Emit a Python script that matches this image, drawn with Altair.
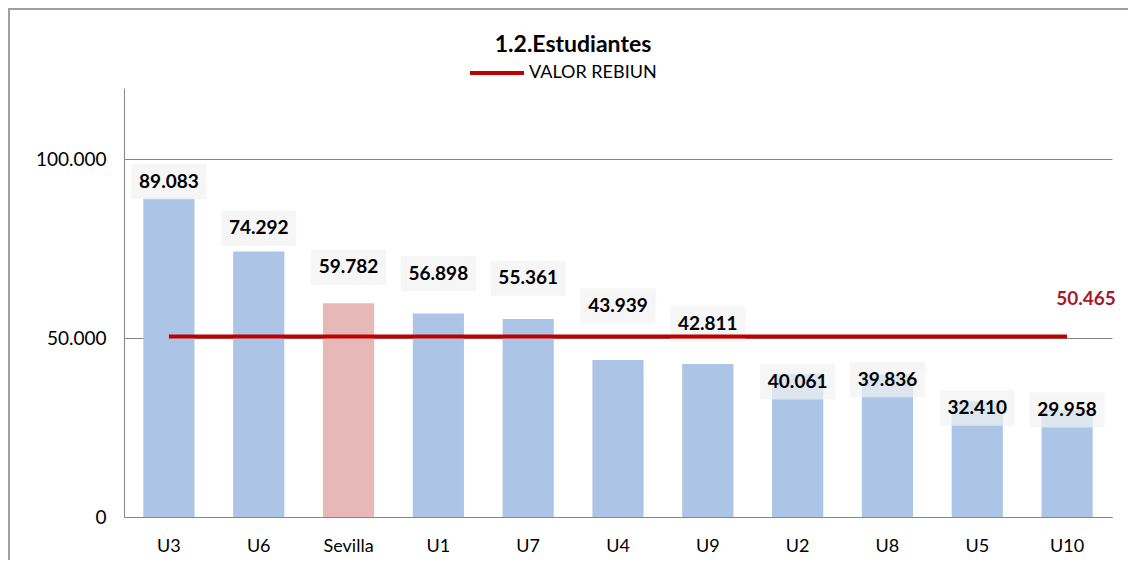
import altair as alt
import pandas as pd

# ---- data ----
categories = ["U3", "U6", "Sevilla", "U1", "U7", "U4", "U9", "U2", "U8", "U5", "U10"]
values = [89083, 74292, 59782, 56898, 55361, 43939, 42811, 40061, 39836, 32410, 29958]
highlight = "Sevilla"
rebiun_value = 50465
rebiun_label = "VALOR REBIUN"
chart_title = "1.2.Estudiantes"
y_ticks = [0, 50000, 100000]
# label lift above bar top (px), as placed in the reference
label_lift = [17, 23, 36, 40, 41, 54, 40, -8, -5, -7, 0]

Y_MAX = 120000
PLOT_W, PLOT_H = 988, 429


def fmt(v):
    return f"{v:,}".replace(",", ".")


df = pd.DataFrame({
    "cat": categories,
    "value": values,
    "label": [fmt(v) for v in values],
    "lift": label_lift,
})
ref = pd.DataFrame({
    "cat": [categories[0], categories[-1]],
    "value": [rebiun_value, rebiun_value],
    "serie": [rebiun_label, rebiun_label],
})
ref_lab = pd.DataFrame({"cat": [categories[-1]], "value": [rebiun_value], "label": [fmt(rebiun_value)]})
title_df = pd.DataFrame({"t": [chart_title]})

FONT = "Lato"
GREY = "#868686"
BLUE = "#ACC5E6"
PINK = "#E6B9B8"
RED = "#C00000"

x = alt.X("cat:N", sort=categories,
          scale=alt.Scale(paddingInner=0.43, paddingOuter=0.215),
          axis=alt.Axis(title=None, labelAngle=0, ticks=False, domainColor=GREY,
                        labelFontSize=18, labelFont=FONT, labelColor="#000000",
                        labelPadding=20, grid=False))
yscale = alt.Scale(domain=[0, Y_MAX], nice=False)
y = alt.Y("value:Q", scale=yscale,
          axis=alt.Axis(title=None, values=y_ticks, ticks=False, grid=True,
                        gridColor=GREY, domainColor=GREY, labelFontSize=19,
                        labelFont=FONT, labelColor="#000000", labelPadding=18,
                        labelExpr="replace(format(datum.value, ','), ',', '.')"))

base = alt.Chart(df)

bars = base.mark_bar().encode(
    x=x, y=y,
    color=alt.condition(alt.datum.cat == highlight, alt.value(PINK), alt.value(BLUE)),
)

# label anchor: lift the label above the bar top by the given number of pixels
lab_base = base.transform_calculate(
    value=f"datum.value + datum.lift * {Y_MAX} / {PLOT_H}"
)

boxes = lab_base.mark_point(
    shape="M-1,-0.47H1V0.47H-1Z", filled=True, fill="#F2F2F2", fillOpacity=0.7,
    strokeWidth=0, size=5625,
).encode(x=x, y=y)

labels = lab_base.mark_text(font=FONT, fontSize=19, fontWeight="bold", color="#000000",
                            baseline="middle").encode(
    x=x, y=y, text="label:N")

line = alt.Chart(ref).mark_line(strokeWidth=4).encode(
    x=x, y=y,
    color=alt.Color("serie:N", scale=alt.Scale(domain=[rebiun_label], range=[RED]),
                    legend=alt.Legend(title=None, orient="none", legendX=344, legendY=-44,
                                      symbolType="stroke", symbolSize=2916,
                                      symbolStrokeWidth=4, labelFontSize=18,
                                      labelFont=FONT, labelColor="#000000",
                                      labelOffset=3)),
)

ref_text = alt.Chart(ref_lab).mark_text(font=FONT, fontSize=19, fontWeight="bold",
                                        color="#A6192E", baseline="middle",
                                        dx=19, dy=-38).encode(
    x=x, y=y, text="label:N")

title = alt.Chart(title_df).mark_text(font=FONT, fontSize=23, fontWeight="bold",
                                      color="#000000", baseline="alphabetic",
                                      align="center").encode(
    x=alt.value(449), y=alt.value(-36), text="t:N")

frame = alt.Chart(pd.DataFrame({"a": [0]})).mark_rect(
    fill=None, stroke="#A0A0A0", strokeWidth=2
).encode(x=alt.value(-115), x2=alt.value(1030), y=alt.value(-79), y2=alt.value(600))

chart = alt.layer(frame, bars, boxes, labels, line, ref_text, title).properties(
    width=PLOT_W, height=PLOT_H,
    autosize=alt.AutoSizeParams(type="none"),
    padding={"left": 116, "top": 80, "right": 16, "bottom": 43},
).configure(background="white").configure_view(stroke=None)

chart.save("out.html", embed_options={"renderer": "svg", "actions": False})
